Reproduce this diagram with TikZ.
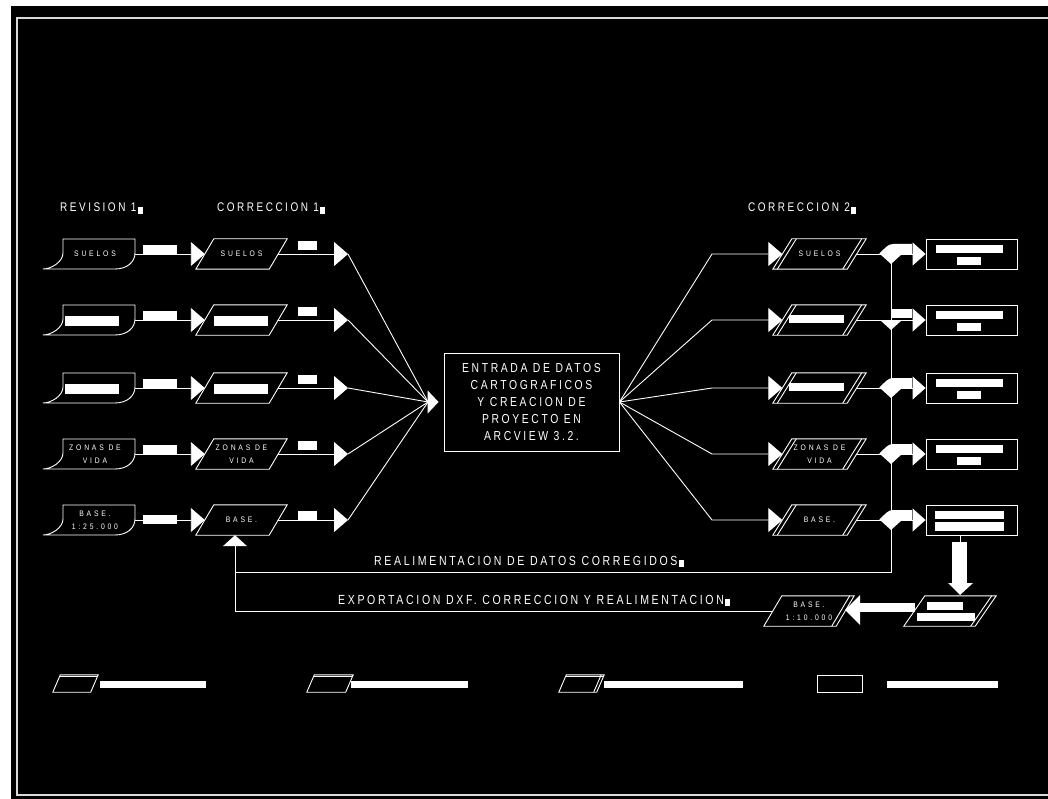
\documentclass[tikz,border=0pt]{standalone}
\usepackage{fontspec}
\usetikzlibrary{positioning, calc, arrows.meta}
\newfontfamily\cadfont[FakeStretch=0.8,LetterSpace=20]{Liberation Sans}
\newfontfamily\cadsmall[FakeStretch=0.85,LetterSpace=35]{Liberation Sans}
\newcommand{\ordbox}{\hspace{1.5pt}\rule[-2pt]{5pt}{7pt}}
% slanted outline round a node: #1 node, #2 slant
\newcommand{\paraedge}[2]{\draw[wire] (#1.south west) -- ([xshift=#2]#1.north west)
  -- (#1.north east) -- ([xshift=-#2]#1.south east) -- cycle;}
% second line inside the right side: #1 node, #2 slant, #3 offset
\newcommand{\pararight}[3]{\draw[wire] ([xshift=-#3]#1.north east)
  -- ([xshift=-#2-#3]#1.south east);}
\newcommand{\paraleft}[3]{\draw[wire] ([xshift=#3]#1.south west)
  -- ([xshift=#2+#3]#1.north west);}
\tikzset{
  lbl/.style={text=white,inner sep=0pt,anchor=base west,
    font=\cadfont\fontsize{12.5}{14}\selectfont},
  longlbl/.style={lbl,font=\cadfont\fontsize{13.2}{15}\selectfont},
  tag/.style={text=white,inner sep=0pt,align=center,
    font=\cadsmall\fontsize{8}{13}\selectfont},
  rev/.style={tag,minimum width=80pt,minimum height=30pt},
  para/.style={tag,minimum width=91pt,minimum height=30pt},
  outbox/.style={draw=white,line width=0.9pt,minimum width=91pt,
    minimum height=30pt,inner sep=0pt},
  wire/.style={draw=white,line width=0.9pt},
  arr/.style={wire,-{Triangle[length=14pt,width=24pt]}},
  bar/.style={fill=white},
}
\begin{document}
\begin{tikzpicture}[x=1pt,y=-1pt]
  \useasboundingbox (0,0) rectangle (1048,799);
  \fill[white] (0,0) rectangle (1048,799);
  \fill[black] (11,6) rectangle (1048,799);
  \draw[white!85!black,line width=1.3pt] (17,18) rectangle (1070,795);

  % column titles
  \node[lbl] (revlbl) at (60,212) {REVISION 1\ordbox};
  \node[lbl] (corr1lbl) at (217,212) {CORRECCION 1\ordbox};
  \node[lbl] (corr2lbl) at (748,212) {CORRECCION 2\ordbox};

  % central process
  \coordinate (hub) at (428,402);
  \node[draw=white,line width=0.9pt,text=white,minimum width=175pt,
    minimum height=98pt,align=center,inner sep=0pt,
    font=\cadfont\fontsize{13}{17}\selectfont] (entrada) at (531.5,402)
    {ENTRADA DE DATOS\\CARTOGRAFICOS\\Y CREACION DE\\PROYECTO EN\\ARCVIEW 3.2.};
  \draw[wire,-{Triangle[length=11pt,width=23pt]},shorten >=5pt] (hub) -- (entrada.west);

  % left rows: revision -> correction 1 -> hub
  \foreach \i/\y/\rt/\ct/\dy in {1/254/SUELOS/SUELOS/0, 2/320///0, 3/388///0,
      4/454/{ZONAS DE\\VIDA}/{ZONAS DE\\VIDA}/0, 5/520/{BASE.\\1:25.000}/BASE./4}{
    \node[rev] (r\i) at (95,\y) {\rt};
    \draw[wire,shift={(r\i.center)}] (-32,-15) -- (40,-15) -- (40,-1)
      .. controls (40,8) and (32,15) .. (20,15) -- (-52,15)
      .. controls (-44,15) and (-32,8) .. (-32,-1) -- cycle;
    \node[para] (c\i) at (241.5,\y) {\ct};
    \paraedge{c\i}{18}
    \coordinate (t\i) at (348,\y);
    \draw[arr] (r\i.east) -- ([xshift=9pt]c\i.west);
    \draw[arr] ([xshift=-9pt]c\i.east) -- (t\i);
    \draw[wire] (t\i) -- (hub);
    \fill[bar] (143,\y-9+\dy) rectangle (177,\y+\dy);
    \fill[bar] (298,\y-13+\dy) rectangle (317,\y-4+\dy);
  }
  \foreach \i in {2,3}{
    \fill[bar] ($(r\i.center)+(-30,-4)$) rectangle ($(r\i.center)+(24,6)$);
    \fill[bar] ($(c\i.center)+(-28,-4)$) rectangle ($(c\i.center)+(26,6)$);
  }

  % right rows: hub -> correction 2 -> results
  \foreach \i/\y/\kt in {1/254/SUELOS, 2/320/, 3/388/, 4/454/{ZONAS DE\\VIDA}, 5/520/BASE.}{
    \node[para,minimum width=93pt] (k\i) at (819.5,\y) {\kt};
    \paraedge{k\i}{19}
    \pararight{k\i}{19}{4.5}
    \paraleft{k\i}{19}{4.5}
    \coordinate (n\i) at (712,\y);
    \coordinate (j\i) at (891,\y);
    \node[outbox] (o\i) at (971.5,\y) {};
    \draw[arr] (entrada.east) -- (n\i) -- ([xshift=9.5pt]k\i.west);
    \draw[wire] ([xshift=-9.5pt]k\i.east) -- (j\i);
    \fill[white,shift={(j\i)}] (-11,0) -- (11,0) -- (0,10) -- cycle;
    \draw[wire,-{Triangle[length=13pt,width=23pt]}] (j\i) -- (o\i.west);
    \ifnum\i=2
      \fill[bar,shift={(j\i)}] (1,-11) rectangle (21,-2);
    \else
      \fill[bar,shift={(j\i)}] (-12,0) .. controls (-6,-6) and (-3,-10) .. (2,-10)
        -- (21,-10) -- (21,0) -- cycle;
    \fi
  }
  \foreach \i in {2,3}
    \fill[bar] ($(k\i.center)+(-31,-5)$) rectangle ($(k\i.center)+(24,3)$);
  \foreach \i in {1,2,3,4}{
    \fill[bar] ($(o\i.center)+(-36,-9)$) rectangle ($(o\i.center)+(31,-1)$);
    \fill[bar] ($(o\i.center)+(-15,3)$) rectangle ($(o\i.center)+(9,11)$);
  }
  \fill[bar] ($(o5.center)+(-37,-9)$) rectangle ($(o5.center)+(32,-1)$);
  \fill[bar] ($(o5.center)+(-37,2)$) rectangle ($(o5.center)+(32,11)$);

  % feedback loops
  \coordinate (bus) at (891,572);
  \coordinate (fbA) at (235,572);
  \coordinate (fbB) at (235,611);
  \draw[wire] (j1) -- (bus) -- (fbA);
  \node[longlbl] (reallbl) at (374,565) {REALIMENTACION DE DATOS CORREGIDOS\ordbox};

  \node[para,minimum width=92pt] (rb) at (950,611) {};
  \paraedge{rb}{21}
  \pararight{rb}{21}{4.5}
  \fill[bar] (927,602) rectangle (963,610);
  \fill[bar] (917,613) rectangle (975,621);
  \node[para,minimum width=90pt] (b10) at (809,611) {BASE.\\1:10.000};
  \paraedge{b10}{18}
  \pararight{b10}{18}{4.5}

  \draw[wire] ([xshift=-11.5pt]o5.south) -- ++(0,7);
  \fill[white] (952,542) rectangle (967,583);
  \fill[white] (948,583) -- (973,583) -- (960,595) -- cycle;
  \fill[white] (860,603) rectangle (915,612);
  \fill[white] (860,595) -- (860,625) -- (845,610) -- cycle;

  \draw[wire,-{Triangle[length=11pt,width=24pt]}] ([xshift=9pt]b10.west) -- (fbB)
    -- (c5.south -| fbB);
  \node[longlbl] (explbl) at (338,604) {EXPORTACION DXF. CORRECCION Y REALIMENTACION\ordbox};

  % legend
  \node[para,minimum width=45pt,minimum height=17pt] (lg1) at (75.5,683.5) {};
  \node[para,minimum width=46pt,minimum height=17pt] (lg2) at (330,683.5) {};
  \node[para,minimum width=45pt,minimum height=17pt] (lg3) at (581.5,683.5) {};
  \node[outbox,minimum width=45pt,minimum height=17pt] (lg4) at (839.5,683.5) {};
  \foreach \n in {lg1,lg2,lg3}{
    \paraedge{\n}{7.5}
    \draw[wire] ([xshift=7.5pt,yshift=-1.5pt]\n.north west) -- ([yshift=-1.5pt]\n.north east);
  }
  \pararight{lg3}{7.5}{3}
  \fill[bar] (100,681) rectangle (206,688);
  \fill[bar] (351,681) rectangle (468,688);
  \fill[bar] (604,681) rectangle (743,688);
  \fill[bar] (887,681) rectangle (998,688);
\end{tikzpicture}
\end{document}
